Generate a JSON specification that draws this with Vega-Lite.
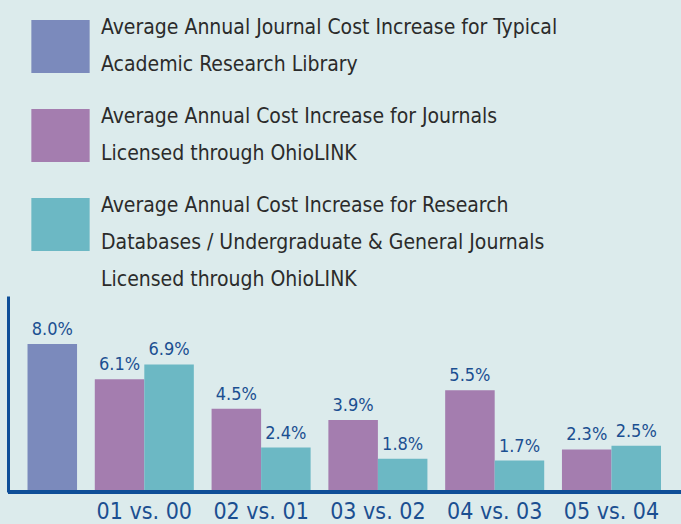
{
  "$schema": "https://vega.github.io/schema/vega-lite/v6.json",
  "autosize": "none",
  "width": 673,
  "height": 196,
  "padding": {"left": 8, "top": 296, "right": 0, "bottom": 32},
  "background": "#dcebec",
  "config": {"view": {"stroke": null}, "font": "DejaVu Sans Condensed, Roboto"},
  "data": {"values": [
    {"group": "", "series": "A", "value": 8.0},
    {"group": "01 vs. 00", "series": "B", "value": 6.1},
    {"group": "01 vs. 00", "series": "C", "value": 6.9},
    {"group": "02 vs. 01", "series": "B", "value": 4.5},
    {"group": "02 vs. 01", "series": "C", "value": 2.4},
    {"group": "03 vs. 02", "series": "B", "value": 3.9},
    {"group": "03 vs. 02", "series": "C", "value": 1.8},
    {"group": "04 vs. 03", "series": "B", "value": 5.5},
    {"group": "04 vs. 03", "series": "C", "value": 1.7},
    {"group": "05 vs. 04", "series": "B", "value": 2.3},
    {"group": "05 vs. 04", "series": "C", "value": 2.5}
  ]},
  "transform": [{"calculate": "datum.series === 'B' ? 'L' : 'R'", "as": "slot"}],
  "encoding": {
    "x": {"field": "group", "type": "nominal", "sort": null,
      "scale": {"range": [-30, 653], "paddingInner": 0.152, "paddingOuter": 0},
      "axis": {"title": null, "domain": false, "ticks": false, "labelAngle": 0,
        "labelFontSize": 23, "labelColor": "#1b4f91", "labelPadding": 8, "labelFont": "DejaVu Sans Condensed, Roboto"}},
    "xOffset": {"field": "slot", "type": "nominal", "scale": {"domain": ["L", "R"], "paddingInner": 0, "paddingOuter": 0}},
    "y": {"field": "value", "type": "quantitative",
      "scale": {"domain": [0, 10.6], "nice": false},
      "axis": {"title": null, "grid": false, "ticks": false, "labels": false,
        "domainColor": "#0f4f98", "domainWidth": 3}}
  },
  "layer": [
    {"mark": {"type": "bar"},
      "encoding": {
        "color": {"field": "series", "type": "nominal",
          "scale": {"domain": ["A", "B", "C"], "range": ["#7b8abc", "#a47daf", "#6cb8c4"]},
          "legend": {
            "title": null, "orient": "none", "legendX": 26, "legendY": -276,
            "direction": "vertical",
            "symbolType": "M-1.1,-1H1.1V1H-1.1Z", "symbolSize": 2809,
            "symbolStrokeWidth": 0, "symbolOpacity": 1,
            "labelFontSize": 21, "labelColor": "#2b2b2b", "labelFont": "DejaVu Sans Condensed, Roboto",
            "labelOffset": 14, "labelLimit": 700, "labelBaseline": "top",
            "rowPadding": 30,
            "encode": {"labels": {"update": {"dy": {"value": -30}, "lineHeight": {"value": 37}}}},
            "labelExpr": "datum.value === 'A' ? ['Average Annual Journal Cost Increase for Typical', 'Academic Research Library'] : datum.value === 'B' ? ['Average Annual Cost Increase for Journals', 'Licensed through OhioLINK'] : ['Average Annual Cost Increase for Research', 'Databases / Undergraduate & General Journals', 'Licensed through OhioLINK']"
          }
        }
      }
    },
    {"mark": {"type": "text", "baseline": "alphabetic", "dy": -9, "fontSize": 18, "color": "#1b4f91", "font": "DejaVu Sans Condensed, Roboto",
        "text": {"expr": "format(datum.value, '.1f') + '%'"}},
      "encoding": {}
    },
    {"mark": {"type": "rule", "color": "#0f4f98", "strokeWidth": 3},
      "encoding": {"y": {"datum": 0}, "x": null, "xOffset": null}
    }
  ]
}
